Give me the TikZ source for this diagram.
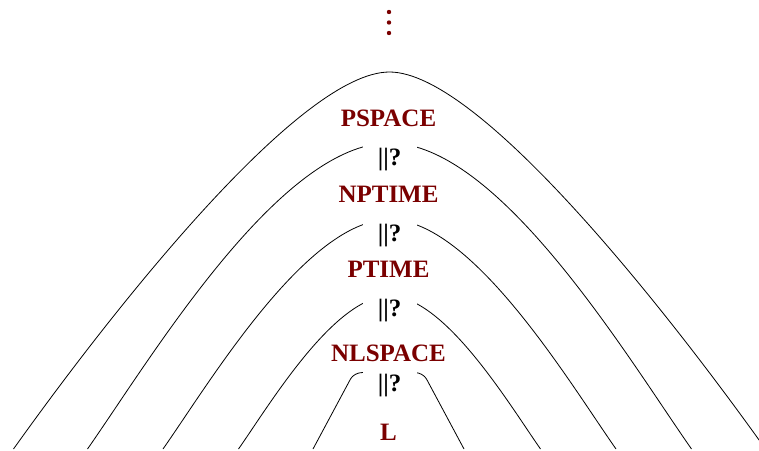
\documentclass[tikz,border=0pt]{standalone}
\usepackage{fontspec}
\setmainfont{Liberation Serif}
\definecolor{lab}{RGB}{122,0,0}
\begin{document}
\begin{tikzpicture}[x=1pt,y=-1pt,
  curve/.style={line width=0.8pt, black},
  cls/.style={text=lab, font=\fontsize{25}{30}\selectfont\bfseries, anchor=base, inner sep=0pt},
  rel/.style={font=\fontsize{25}{30}\selectfont\bfseries, anchor=base, fill=white, inner sep=0pt, text height=25pt, text depth=6pt, minimum width=54pt},
  dot/.style={fill=lab}]
\useasboundingbox (0,0) rectangle (759,450);
\begin{scope}
\clip (0,0) rectangle (759,450);
% outer curve
\draw[curve, shift={(389.5,449)}] (-376,0) .. controls (-278,-137.5) and (-90,-377) .. (0,-377)
  .. controls (90,-377) and (278,-137.5) .. (376,0);
% curves 2,3,4
\foreach \s in {1,0.75,0.5}
  \draw[curve, shift={(389.5,449)}, scale=\s] (-302,0) .. controls (-238.9,-90.1) and (-110,-306) .. (0,-306)
    .. controls (110,-306) and (238.9,-90.1) .. (302,0);
% curve 5
\draw[curve, shift={(388.5,449)}] (-75.5,0) -- (-38,-70) .. controls (-36,-73.7) and (-31,-76.5) .. (-26,-76.5)
  -- (26,-76.5) .. controls (31,-76.5) and (36,-73.7) .. (38,-70) -- (75.5,0);
\end{scope}
% dots
\fill[dot] (389,12) circle[radius=2.2pt];
\fill[dot] (389,22.5) circle[radius=2.2pt];
\fill[dot] (389,33) circle[radius=2.2pt];
% labels
\node[cls] (ps) at (388.5,126) {PSPACE};
\node[rel] (r1) at (389.5,165) {||?};
\node[cls] (np) at (388.5,202) {NPTIME};
\node[rel] (r2) at (389.5,241) {||?};
\node[cls] (pt) at (388.5,277) {PTIME};
\node[rel] (r3) at (389.5,316) {||?};
\node[cls] (nl) at (388.5,361) {NLSPACE};
\node[rel] (r4) at (389.5,391) {||?};
\node[cls] (l) at (388.5,440) {L};
\end{tikzpicture}
\end{document}
